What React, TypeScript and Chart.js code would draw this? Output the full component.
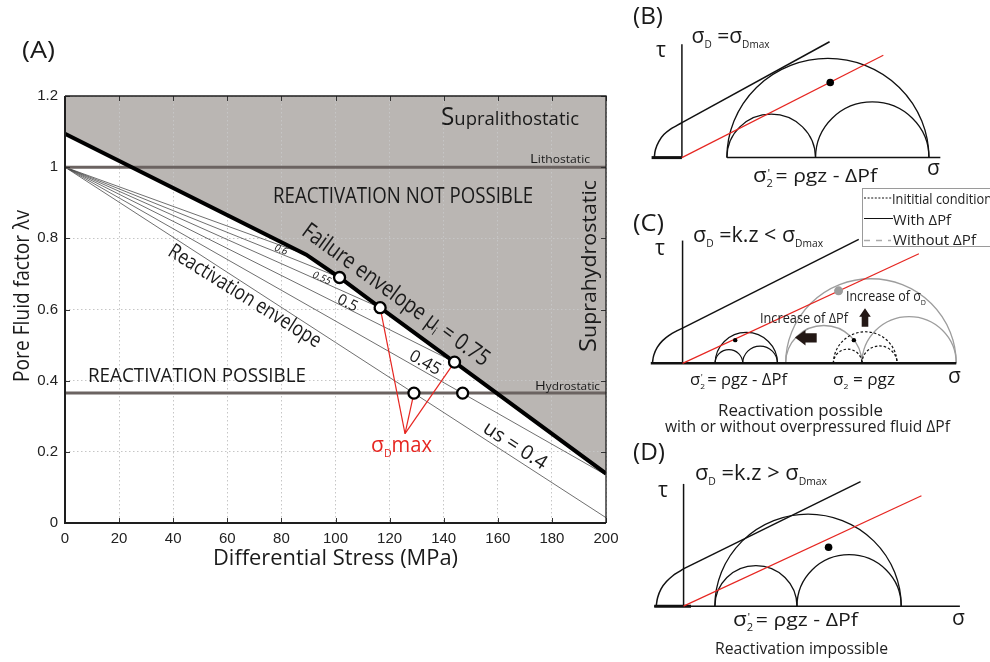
import React, { useEffect, useRef } from 'react';
import { Chart, registerables } from 'chart.js';
Chart.register(...registerables);

// ---------------- Panel A data ----------------
const stressTicks = [0, 20, 40, 60, 80, 100, 120, 140, 160, 180, 200];
const stressTickLabels = ['0', '20', '40', '60', '80', '100', '120', '140', '160', '180', '200'];
const lambdaTicks = [0, 0.2, 0.4, 0.6, 0.8, 1, 1.2];
const lambdaTickLabels = ['0', '0.2', '0.4', '0.6', '0.8', '1', '1.2'];

const failureStress = [0, 89.2, 101.5, 116.5, 144, 200];
const failureLambda = [1.094, 0.754, 0.69, 0.605, 0.452, 0.139];

const lithostaticLambda = 1.0;
const hydrostaticLambda = 0.365;

const reactivationStartLambda = 1.0;
const reactivationMu = ['', '0.6', '0.55', '0.5', '0.45', '0.4'];
const reactivationEndStress = [89.2, 101.5, 116.5, 144, 200, 200];
const reactivationEndLambda = [0.754, 0.69, 0.605, 0.452, 0.135, 0.015];

const sigmaDmaxStress = [101.5, 116.5, 144, 129, 147];
const sigmaDmaxLambda = [0.69, 0.605, 0.452, 0.365, 0.365];

const pointerFrom = { x: 125.7, y: 0.251 };
const pointerToStress = [116.5, 144, 129];
const pointerToLambda = [0.605, 0.452, 0.365];

// ---------------- Panel B data (Mohr diagram, arbitrary units) ----------------
const bCircleCentre = [149.3, 91.3, 194.7];
const bCircleRadius = [103.3, 45.3, 58.0];
const bEnvCurveSigma = [-28.3, -27, -23.5, -18.5, -12, -5, 1];
const bEnvCurveTau = [0, 8.5, 17, 24, 29.5, 33.5, 37];
const bEnvLineSigma = [1, 151];
const bEnvLineTau = [37, 120.7];
const bFrictionSigma = [0, 206];
const bFrictionTau = [0, 106.7];
const bDotSigma = [151.7];
const bDotTau = [78.3];
const bAxisTau = [0, 118];
const bBaseThick = [-31, 0];
const bBaseThin = [46, 264.3];

// ---------------- Panel C data ----------------
const cWithCentre = [65.4, 47.5, 79.5];
const cWithRadius = [32, 14.2, 17.8];
const cWithoutCentre = [193.2, 144.85, 232.35];
const cWithoutRadius = [87.5, 39.15, 48.35];
const cInitialCentre = [187.35, 169.35, 202];
const cInitialRadius = [32.65, 14.65, 18];
const cEnvCurveSigma = [-31, -29.5, -26, -20.5, -13, -6, 0];
const cEnvCurveTau = [0, 8.5, 16.5, 23.5, 29.5, 33.5, 36.5];
const cEnvLineSigma = [0, 180.7];
const cEnvLineTau = [36.5, 128.3];
const cFrictionSigma = [0, 242.4];
const cFrictionTau = [0, 113.3];
const cBlackDotSigma = [54, 175.7];
const cBlackDotTau = [24, 24];
const cGrayDotSigma = [160];
const cGrayDotTau = [75];
const cAxisTau = [0, 127];
const cBase = [-32.6, 280.7];

// ---------------- Panel D data ----------------
const dCircleCentre = [127.3, 74, 169.3];
const dCircleRadius = [95.3, 42, 53.3];
const dEnvCurveSigma = [-28, -26.5, -23, -17.5, -11, -5, -0.7];
const dEnvCurveTau = [0, 9, 18, 25.5, 31.5, 35.5, 38.3];
const dEnvLineSigma = [-0.7, 181];
const dEnvLineTau = [38.3, 129];
const dFrictionSigma = [0, 243.3];
const dFrictionTau = [0, 114.3];
const dDotSigma = [148.3];
const dDotTau = [61];
const dAxisTau = [0, 126.6];
const dBaseThick = [-30, 7.6];
const dBaseThin = [-30, 282.6];

// ---------------- helpers ----------------
const SANS = '"Open Sans", "Noto Sans", sans-serif';
const TICK = '"Liberation Sans", Arial, sans-serif';
const INK = '#1a1a1a';
const RED = '#e62621';

const pts = (xs: number[], ys: number[]) => xs.map((x, i) => ({ x, y: ys[i] }));

type Seg = { t: string; s: number; dy?: number; dx?: number; it?: boolean };
function rich(ctx: CanvasRenderingContext2D, segs: Seg[], x: number, y: number,
  o: { align?: 'left' | 'center' | 'right'; w?: number; rot?: number; color?: string; mid?: boolean; fam?: string } = {}) {
  const fam = o.fam || SANS;
  ctx.save();
  ctx.fillStyle = o.color || INK;
  ctx.textBaseline = o.mid ? 'middle' : 'alphabetic';
  ctx.textAlign = 'left';
  let total = 0;
  const widths = segs.map((sg) => {
    ctx.font = `${sg.it ? 'italic ' : ''}${sg.s}px ${fam}`;
    const w = ctx.measureText(sg.t).width;
    total += w + (sg.dx || 0);
    return w;
  });
  const k = o.w ? o.w / total : 1;
  ctx.translate(x, y);
  if (o.rot) ctx.rotate((o.rot * Math.PI) / 180);
  ctx.scale(k, 1);
  let cx = o.align === 'center' ? -total / 2 : o.align === 'right' ? -total : 0;
  segs.forEach((sg, i) => {
    ctx.font = `${sg.it ? 'italic ' : ''}${sg.s}px ${fam}`;
    cx += sg.dx || 0;
    ctx.fillText(sg.t, cx, sg.dy || 0);
    cx += widths[i];
  });
  ctx.restore();
}

const ln = (data: any[], color: string, width: number, order: number, extra: any = {}) => ({
  data, borderColor: color, borderWidth: width, pointRadius: 0, fill: false, tension: 0, order, ...extra,
});

// ---------------- Panel A chart ----------------
function makeA(): any {
  const datasets: any[] = [];
  datasets.push({
    data: pts(sigmaDmaxStress, sigmaDmaxLambda), showLine: false, pointRadius: 5.5,
    pointBackgroundColor: '#fff', pointBorderColor: '#000', pointBorderWidth: 2.3, order: 0,
  });
  datasets.push(ln(pts(failureStress, failureLambda), '#000', 4, 1, { fill: 'end', backgroundColor: '#bab6b3' }));
  pointerToStress.forEach((x, i) => {
    datasets.push(ln([pointerFrom, { x, y: pointerToLambda[i] }], RED, 1.2, 2));
  });
  datasets.push(ln([{ x: 0, y: hydrostaticLambda }, { x: 200, y: hydrostaticLambda }], '#6b6361', 3, 3));
  datasets.push(ln([{ x: 0, y: lithostaticLambda }, { x: 200, y: lithostaticLambda }], '#6b6361', 3, 3));
  reactivationEndStress.forEach((x, i) => {
    datasets.push(ln([{ x: 0, y: reactivationStartLambda }, { x, y: reactivationEndLambda[i] }], '#4a4a4a', 0.8, 4));
  });

  const axisCommon = (ticksArr: number[], labels: string[]) => ({
    type: 'linear',
    afterBuildTicks: (ax: any) => { ax.ticks = ticksArr.map((v) => ({ value: v })); },
    ticks: {
      callback: (v: number) => { const i = ticksArr.findIndex((t) => Math.abs(t - v) < 1e-9); return i >= 0 ? labels[i] : ''; },
      font: { family: TICK, size: 15 }, color: '#222', padding: 7, maxRotation: 0, autoSkip: false,
    },
    grid: { color: '#c6c6c6', lineWidth: 1, drawTicks: false },
    border: { display: false, dash: [1.5, 2.5] },
  });

  const plugin = {
    id: 'annotA',
    afterDraw(chart: any) {
      const ctx: CanvasRenderingContext2D = chart.ctx;
      const a = chart.chartArea;
      const xs = chart.scales.x, ys = chart.scales.y;
      ctx.save();
      // inward tick marks
      ctx.strokeStyle = '#333';
      ctx.lineWidth = 1;
      stressTicks.forEach((v) => {
        const px = Math.round(xs.getPixelForValue(v)) + 0.5;
        ctx.beginPath(); ctx.moveTo(px, a.bottom); ctx.lineTo(px, a.bottom - 5); ctx.stroke();
        ctx.beginPath(); ctx.moveTo(px, a.top); ctx.lineTo(px, a.top + 5); ctx.stroke();
      });
      lambdaTicks.forEach((v) => {
        const py = Math.round(ys.getPixelForValue(v)) + 0.5;
        ctx.beginPath(); ctx.moveTo(a.left, py); ctx.lineTo(a.left + 5, py); ctx.stroke();
        ctx.beginPath(); ctx.moveTo(a.right, py); ctx.lineTo(a.right - 5, py); ctx.stroke();
      });
      // box
      ctx.strokeStyle = '#1e1e1e';
      ctx.lineWidth = 1.3;
      ctx.beginPath(); ctx.moveTo(a.left, a.top); ctx.lineTo(a.right, a.top); ctx.lineTo(a.right, a.bottom); ctx.stroke();
      ctx.lineWidth = 2;
      ctx.beginPath(); ctx.moveTo(a.left, a.top); ctx.lineTo(a.left, a.bottom); ctx.lineTo(a.right, a.bottom); ctx.stroke();
      ctx.restore();

      rich(ctx, [{ t: '(A)', s: 24 }], 22, 58, { w: 33 });
      rich(ctx, [{ t: 'S', s: 25 }, { t: 'upralithostatic', s: 19 }], 441, 125, { w: 138 });
      rich(ctx, [{ t: 'L', s: 13 }, { t: 'ithostatic', s: 10.5 }], 530, 163, { w: 60 });
      rich(ctx, [{ t: 'H', s: 13 }, { t: 'ydrostatic', s: 10.5 }], 535, 390, { w: 65 });
      rich(ctx, [{ t: 'REACTIVATION NOT POSSIBLE', s: 21 }], 273, 203, { w: 260 });
      rich(ctx, [{ t: 'REACTIVATION POSSIBLE', s: 20 }], 88, 381.5, { w: 218 });
      rich(ctx, [{ t: 'S', s: 24 }, { t: 'uprahydrostatic', s: 20 }], 596, 266, { w: 172, rot: -90, align: 'center' });
      rich(ctx, [{ t: 'Failure envelope μ', s: 23 }, { t: 'i', s: 12, dy: 4 }, { t: ' = 0.75', s: 23 }], 391.8, 300.6, { w: 226, rot: 36, align: 'center' });
      rich(ctx, [{ t: 'Reactivation envelope', s: 21 }], 241.5, 301.5, { w: 176, rot: 32, align: 'center' });
      rich(ctx, [{ t: reactivationMu[1], s: 10, it: true }], 281, 250, { rot: 22, align: 'center', mid: true });
      rich(ctx, [{ t: reactivationMu[2], s: 10, it: true }], 321.7, 278.3, { rot: 24, align: 'center', mid: true });
      rich(ctx, [{ t: reactivationMu[3], s: 15 }], 347.5, 303.3, { rot: 26.6, align: 'center', mid: true });
      rich(ctx, [{ t: reactivationMu[4], s: 17 }], 425, 363, { rot: 29.6, align: 'center', mid: true });
      rich(ctx, [{ t: 'us = ' + reactivationMu[5], s: 20 }], 515, 446, { rot: 33, align: 'center', mid: true });
      rich(ctx, [{ t: 'σ', s: 22 }, { t: 'D', s: 11, dy: 5 }, { t: 'max', s: 21 }], 371, 452, { w: 61, color: RED });
      rich(ctx, [{ t: 'Pore Fluid factor λv', s: 21 }], 28.5, 296, { w: 172, rot: -90, align: 'center' });
      rich(ctx, [{ t: 'Differential Stress (MPa)', s: 21 }], 213, 565, { w: 245 });
    },
  };

  return {
    type: 'line',
    data: { datasets },
    options: {
      animation: false, responsive: false, events: [],
      layout: { padding: { left: 15, right: 24, top: 96, bottom: 109 } },
      plugins: { legend: { display: false }, tooltip: { enabled: false }, filler: { drawTime: 'beforeDraw' } },
      scales: {
        x: { ...axisCommon(stressTicks, stressTickLabels), min: 0, max: 200, afterFit: (s: any) => { s.height = 30; } },
        y: { ...axisCommon(lambdaTicks, lambdaTickLabels), min: 0, max: 1.2, afterFit: (s: any) => { s.width = 50; } },
      },
    },
    plugins: [plugin],
  };
}

// ---------------- Mohr panels ----------------
type CircleSet = { c: number[]; r: number[]; color: string; width: number; dash?: number[] };
type PanelSpec = {
  left: number; top: number; width: number; height: number; ox: number; oy: number;
  datasets: any[]; circles: CircleSet[]; draw: (ctx: CanvasRenderingContext2D) => void;
};

function makePanel(p: PanelSpec): any {
  const plugin = {
    id: 'mohr',
    beforeDatasetsDraw(chart: any) {
      const ctx: CanvasRenderingContext2D = chart.ctx;
      const xs = chart.scales.x, ys = chart.scales.y;
      ctx.save();
      p.circles.forEach((set) => {
        ctx.strokeStyle = set.color;
        ctx.lineWidth = set.width;
        ctx.setLineDash(set.dash || []);
        set.c.forEach((c, i) => {
          const cx = xs.getPixelForValue(c), cy = ys.getPixelForValue(0);
          const rx = xs.getPixelForValue(c + set.r[i]) - cx;
          const ry = cy - ys.getPixelForValue(set.r[i]);
          ctx.beginPath();
          ctx.ellipse(cx, cy, rx, ry, 0, Math.PI, 2 * Math.PI);
          ctx.stroke();
        });
      });
      ctx.restore();
    },
    afterDraw(chart: any) {
      const ctx: CanvasRenderingContext2D = chart.ctx;
      ctx.save();
      ctx.translate(-p.left, -p.top);
      p.draw(ctx);
      ctx.restore();
    },
  };
  return {
    type: 'line',
    data: { datasets: p.datasets },
    options: {
      animation: false, responsive: false, events: [],
      layout: { padding: 0 },
      plugins: { legend: { display: false }, tooltip: { enabled: false } },
      scales: {
        x: { type: 'linear', display: false, min: -p.ox, max: p.width - p.ox },
        y: { type: 'linear', display: false, min: -(p.height - p.oy), max: p.oy },
      },
    },
    plugins: [plugin],
  };
}

const dot = (data: any[], color: string, r: number) => ({
  data, showLine: false, pointRadius: r, pointBackgroundColor: color, pointBorderWidth: 0, clip: false, order: 0,
});
const seg = (xs: number[], ys: number[], color: string, w: number, extra: any = {}) =>
  ln(pts(xs, ys), color, w, 1, { clip: false, ...extra });

const panelB: PanelSpec = {
  left: 630, top: 0, width: 360, height: 200, ox: 49, oy: 160,
  circles: [{ c: bCircleCentre, r: bCircleRadius, color: '#111', width: 1.3 }],
  datasets: [
    dot(pts(bDotSigma, bDotTau), '#000', 3.8),
    seg(bFrictionSigma, bFrictionTau, RED, 1.2),
    seg(bEnvCurveSigma, bEnvCurveTau, '#111', 1.5, { tension: 0.4 }),
    seg(bEnvLineSigma, bEnvLineTau, '#111', 1.5),
    seg([0, 0], bAxisTau, '#111', 1.5),
    seg(bBaseThick, [0, 0], '#111', 3),
    seg(bBaseThin, [0, 0], '#111', 1.5),
  ],
  draw: (ctx) => {
    rich(ctx, [{ t: '(B)', s: 24 }], 633, 24, { w: 30 });
    rich(ctx, [{ t: 'τ', s: 21 }], 656, 57);
    rich(ctx, [{ t: 'σ', s: 21 }, { t: 'D', s: 10, dy: 5 }, { t: ' =σ', s: 21 }, { t: 'Dmax', s: 10, dy: 5 }], 691.5, 43, { w: 78 });
    rich(ctx, [{ t: 'σ', s: 21 }], 927, 175);
    rich(ctx, [{ t: 'σ', s: 20 }, { t: '2', s: 10, dy: 5 }, { t: "'", s: 11, dy: -5, dx: -5 }, { t: ' = ρgz - ΔPf', s: 19 }], 753, 181.5, { w: 124 });
  },
};

const panelC: PanelSpec = {
  left: 630, top: 180, width: 360, height: 270, ox: 49.3, oy: 185,
  circles: [
    { c: cWithoutCentre, r: cWithoutRadius, color: '#9d9d9d', width: 1.3 },
    { c: cInitialCentre, r: cInitialRadius, color: '#111', width: 1.2, dash: [2.5, 2] },
    { c: cWithCentre, r: cWithRadius, color: '#111', width: 1.2 },
  ],
  datasets: [
    dot(pts(cBlackDotSigma, cBlackDotTau), '#000', 2.2),
    dot(pts(cGrayDotSigma, cGrayDotTau), '#9d9d9d', 4.5),
    seg(cFrictionSigma, cFrictionTau, RED, 1.2),
    seg(cEnvCurveSigma, cEnvCurveTau, '#111', 1.5, { tension: 0.4 }),
    seg(cEnvLineSigma, cEnvLineTau, '#111', 1.5),
    seg([0, 0], cAxisTau, '#111', 1.5),
    seg(cBase, [0, 0], '#111', 2.5),
  ],
  draw: (ctx) => {
    // arrows
    ctx.fillStyle = '#231815';
    ctx.beginPath();
    ctx.moveTo(795, 337.5); ctx.lineTo(805.5, 330); ctx.lineTo(805.5, 333.3); ctx.lineTo(816.7, 333.3);
    ctx.lineTo(816.7, 342.5); ctx.lineTo(805.5, 342.5); ctx.lineTo(805.5, 345.5); ctx.closePath(); ctx.fill();
    ctx.beginPath();
    ctx.moveTo(865, 308.3); ctx.lineTo(870.8, 316.7); ctx.lineTo(868.3, 316.7); ctx.lineTo(868.3, 326.7);
    ctx.lineTo(861.7, 326.7); ctx.lineTo(861.7, 316.7); ctx.lineTo(859.2, 316.7); ctx.closePath(); ctx.fill();

    // legend
    ctx.save();
    ctx.fillStyle = '#fff';
    ctx.fillRect(862.5, 188.5, 140, 58);
    ctx.strokeStyle = '#9a9a9a'; ctx.lineWidth = 1;
    ctx.strokeRect(862.5, 188.5, 140, 58);
    ctx.strokeStyle = '#111'; ctx.lineWidth = 1; ctx.setLineDash([2, 1.6]);
    ctx.beginPath(); ctx.moveTo(864, 198); ctx.lineTo(892, 198); ctx.stroke();
    ctx.setLineDash([]);
    ctx.beginPath(); ctx.moveTo(864, 218.5); ctx.lineTo(893, 218.5); ctx.stroke();
    ctx.strokeStyle = '#ababab'; ctx.lineWidth = 1.5; ctx.setLineDash([6, 6]);
    ctx.beginPath(); ctx.moveTo(864, 240.5); ctx.lineTo(891, 240.5); ctx.stroke();
    ctx.restore();
    rich(ctx, [{ t: 'Inititial condition', s: 15 }], 892, 203.5, { w: 100, color: '#222' });
    rich(ctx, [{ t: 'With ΔPf', s: 15 }], 893, 224.5, { w: 58, color: '#222' });
    rich(ctx, [{ t: 'Without ΔPf', s: 15 }], 893, 244.5, { w: 83, color: '#222' });

    rich(ctx, [{ t: '(C)', s: 24 }], 633, 231, { w: 31 });
    rich(ctx, [{ t: 'τ', s: 21 }], 655, 255);
    rich(ctx, [{ t: 'σ', s: 21 }, { t: 'D', s: 10, dy: 5 }, { t: ' =k.z < σ', s: 21 }, { t: 'Dmax', s: 10, dy: 5 }], 693, 242, { w: 130 });
    rich(ctx, [{ t: 'σ', s: 21 }], 948, 383);
    rich(ctx, [{ t: 'σ', s: 16 }, { t: '2', s: 8, dy: 4 }, { t: "'", s: 9, dy: -4, dx: -4 }, { t: ' = ρgz - ΔPf', s: 16 }], 690, 384.5, { w: 97 });
    rich(ctx, [{ t: 'σ', s: 16 }, { t: '2', s: 8, dy: 4 }, { t: ' = ρgz', s: 16 }], 833, 384.5, { w: 62 });
    rich(ctx, [{ t: 'Increase of ΔPf', s: 14 }], 760, 323, { w: 88, color: '#222' });
    rich(ctx, [{ t: 'Increase of σ', s: 14 }, { t: 'D', s: 8, dy: 4 }], 846, 301, { w: 80, color: '#222' });
    rich(ctx, [{ t: 'Reactivation possible', s: 16 }], 800.5, 415.5, { w: 165, align: 'center', color: '#222' });
    rich(ctx, [{ t: 'with or without overpressured fluid ΔPf', s: 16 }], 807.5, 431.5, { w: 285, align: 'center', color: '#222' });
  },
};

const panelD: PanelSpec = {
  left: 630, top: 430, width: 360, height: 232, ox: 50.7, oy: 178.3,
  circles: [{ c: dCircleCentre, r: dCircleRadius, color: '#111', width: 1.3 }],
  datasets: [
    dot(pts(dDotSigma, dDotTau), '#000', 3.8),
    seg(dFrictionSigma, dFrictionTau, RED, 1.2),
    seg(dEnvCurveSigma, dEnvCurveTau, '#111', 1.5, { tension: 0.4 }),
    seg(dEnvLineSigma, dEnvLineTau, '#111', 1.5),
    seg([0, 0], dAxisTau, '#111', 1.5),
    seg(dBaseThick, [0, 0], '#111', 3),
    seg(dBaseThin, [0, 0], '#111', 1.5),
  ],
  draw: (ctx) => {
    rich(ctx, [{ t: '(D)', s: 24 }], 633, 460, { w: 32 });
    rich(ctx, [{ t: 'τ', s: 21 }], 658, 497);
    rich(ctx, [{ t: 'σ', s: 21 }, { t: 'D', s: 10, dy: 5 }, { t: ' =k.z > σ', s: 21 }, { t: 'Dmax', s: 10, dy: 5 }], 695, 480, { w: 132 });
    rich(ctx, [{ t: 'σ', s: 21 }], 952, 625);
    rich(ctx, [{ t: 'σ', s: 20 }, { t: '2', s: 10, dy: 5 }, { t: "'", s: 11, dy: -5, dx: -5 }, { t: ' = ρgz - ΔPf', s: 19 }], 733, 626, { w: 125 });
    rich(ctx, [{ t: 'Reactivation impossible', s: 17 }], 801.5, 654, { w: 173, align: 'center', color: '#222' });
  },
};

function ChartBox(props: { left: number; top: number; width: number; height: number; make: () => any }) {
  const ref = useRef<HTMLCanvasElement>(null);
  useEffect(() => {
    const chart = new Chart(ref.current as HTMLCanvasElement, props.make());
    return () => chart.destroy();
  }, []);
  return (
    <canvas ref={ref} width={props.width} height={props.height}
      style={{ position: 'absolute', left: props.left, top: props.top, width: props.width, height: props.height }} />
  );
}

export default function App() {
  return (
    <div style={{ position: 'absolute', left: 0, top: 0, width: 990, height: 662, background: '#fff', overflow: 'hidden' }}>
      <ChartBox left={0} top={0} width={630} height={662} make={makeA} />
      <ChartBox left={630} top={0} width={360} height={200} make={() => makePanel(panelB)} />
      <ChartBox left={630} top={180} width={360} height={270} make={() => makePanel(panelC)} />
      <ChartBox left={630} top={430} width={360} height={232} make={() => makePanel(panelD)} />
    </div>
  );
}
